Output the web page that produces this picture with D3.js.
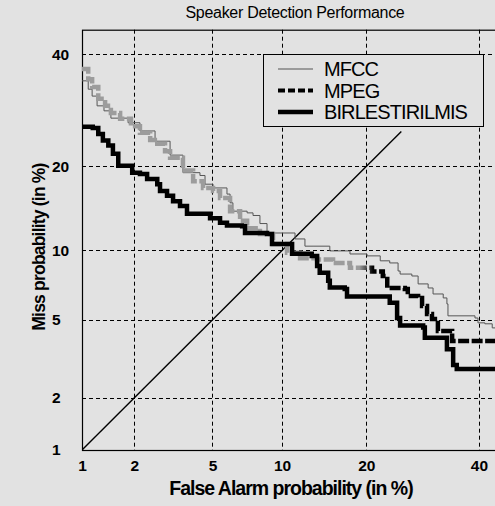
<!DOCTYPE html>
<html>
<head>
<meta charset="utf-8">
<script src="https://cdn.jsdelivr.net/npm/d3@7"></script>
<style>
  html, body { margin: 0; padding: 0; background: #e2e2e2; }
  svg { display: block; font-family: "Liberation Sans", Arial, sans-serif; }
</style>
</head>
<body>
<svg id="chart" width="495" height="506"></svg>
<script>
// Labels and ticks
const title = "Speaker Detection Performance";
const xLabel = "False Alarm probability (in %)";
const yLabel = "Miss probability (in %)";
const tickValues = [1, 2, 5, 10, 20, 40];
const gridValues = [2, 5, 10, 20, 40];
const axisLimits = [1, 45];
const seriesNames = ["MFCC", "MPEG", "BIRLESTIRILMIS"];

// DET curves: [false alarm %, miss %]
const mfcc = [
  [1.0, 34.7], [1.09, 33.1], [1.15, 31.8], [1.23, 30.0], [1.35, 29.1], [1.48, 27.8],
  [1.85, 27.0], [2.15, 25.6], [2.59, 23.9], [3.10, 21.7], [3.60, 19.1], [4.36, 18.7],
  [4.61, 17.5], [5.03, 17.0], [5.83, 16.2], [6.02, 15.1], [6.20, 14.1], [7.16, 13.9],
  [7.59, 13.6], [8.12, 12.7], [8.69, 11.7], [11.05, 11.7], [11.24, 11.1], [12.06, 11.1],
  [12.26, 10.4], [13.14, 10.4], [15.1, 9.96], [17.7, 9.68], [20.1, 9.51], [21.6, 9.51],
  [22.1, 9.08], [23.6, 8.9], [24.96, 8.24], [25.3, 8.0], [27.3, 7.85], [28.4, 7.26],
  [30.2, 6.97], [31.1, 6.56], [33.0, 6.3], [33.7, 5.92], [33.9, 5.22], [39.2, 5.1],
  [39.8, 4.84], [41.2, 4.79], [42.7, 4.58], [45, 4.53]
];
const mpeg = [
  [1.0, 37.0], [1.09, 35.0], [1.15, 33.5], [1.25, 31.3], [1.37, 30.0], [1.48, 28.7],
  [1.67, 27.7], [1.92, 26.4], [2.15, 25.3], [2.44, 24.1], [2.66, 23.5], [2.92, 22.3],
  [3.10, 21.3], [3.60, 19.4], [4.04, 17.9], [4.51, 17.0], [5.03, 16.6], [5.42, 15.7],
  [6.02, 14.1], [6.67, 13.0], [7.16, 12.2], [8.12, 11.6], [9.20, 10.6], [10.46, 9.8],
  [11.75, 9.3], [13.6, 9.2], [15.5, 8.9], [17.7, 8.5], [20.85, 8.2], [22.5, 7.85],
  [23.2, 6.97], [26.1, 6.9], [26.6, 6.43], [28.4, 6.3], [29.1, 5.8], [30.0, 5.33],
  [30.9, 5.05], [32.0, 4.43], [34.7, 3.96], [45, 3.96]
];
const birlestirilmis = [
  [1.0, 26.3], [1.16, 26.1], [1.25, 25.1], [1.33, 24.0], [1.43, 23.2], [1.52, 21.9],
  [1.63, 20.1], [1.85, 20.1], [1.95, 19.1], [2.15, 18.9], [2.35, 18.2], [2.66, 17.5],
  [2.75, 16.6], [2.99, 16.0], [3.21, 15.3], [3.48, 14.7], [3.77, 13.8], [4.87, 13.3],
  [5.42, 12.8], [5.83, 12.5], [6.81, 12.4], [7.01, 11.7], [8.69, 11.6], [9.11, 10.6],
  [10.75, 10.6], [10.95, 9.7], [13.0, 9.5], [13.6, 8.65], [13.9, 8.1], [14.9, 7.5],
  [15.1, 7.0], [17.0, 6.9], [17.3, 6.4], [23.2, 6.4], [23.6, 6.0], [24.8, 5.1],
  [25.3, 4.7], [29.3, 4.6], [29.6, 4.1], [33.4, 4.1], [33.7, 3.6], [34.9, 3.0],
  [35.6, 2.86], [45, 2.86]
];
// Equal error reference line
const chanceLine = [[1, 1], [25.5, 25.5]];

// Inverse standard normal CDF (Acklam's rational approximation)
function probit(p) {
  const a = [-3.969683028665376e+01, 2.209460984245205e+02, -2.759285104469687e+02,
             1.383577518672690e+02, -3.066479806614716e+01, 2.506628277459239e+00];
  const b = [-5.447609879822406e+01, 1.615858368580409e+02, -1.556989798598866e+02,
             6.680131188771972e+01, -1.328068155288572e+01];
  const c = [-7.784894002430293e-03, -3.223964580411365e-01, -2.400758277161838e+00,
             -2.549732539343734e+00, 4.374664141464968e+00, 2.938163982698783e+00];
  const d = [7.784695709041462e-03, 3.224671290700398e-01, 2.445134137142996e+00,
             3.754408661907416e+00];
  const plow = 0.02425, phigh = 1 - plow;
  let q, r;
  if (p < plow) {
    q = Math.sqrt(-2 * Math.log(p));
    return (((((c[0]*q+c[1])*q+c[2])*q+c[3])*q+c[4])*q+c[5]) /
           ((((d[0]*q+d[1])*q+d[2])*q+d[3])*q+1);
  } else if (p <= phigh) {
    q = p - 0.5; r = q * q;
    return (((((a[0]*r+a[1])*r+a[2])*r+a[3])*r+a[4])*r+a[5])*q /
           (((((b[0]*r+b[1])*r+b[2])*r+b[3])*r+b[4])*r+1);
  } else {
    q = Math.sqrt(-2 * Math.log(1 - p));
    return -(((((c[0]*q+c[1])*q+c[2])*q+c[3])*q+c[4])*q+c[5]) /
            ((((d[0]*q+d[1])*q+d[2])*q+d[3])*q+1);
  }
}
const dev = v => probit(v / 100);

const plot = { left: 82, right: 503.4, top: 29.7, bottom: 450 };
const x = d3.scaleLinear().domain(axisLimits.map(dev)).range([plot.left, plot.right]);
const y = d3.scaleLinear().domain(axisLimits.map(dev)).range([plot.bottom, plot.top]);
const px = v => x(dev(v));
const py = v => y(dev(v));

const svg = d3.select("#chart");

// Gradient for the MPEG curve (grey upper run, black lower run)
const defs = svg.append("defs");
const grad = defs.append("linearGradient")
  .attr("id", "mpegTone").attr("gradientUnits", "userSpaceOnUse")
  .attr("x1", px(19)).attr("x2", px(21)).attr("y1", 0).attr("y2", 0);
grad.append("stop").attr("offset", 0).attr("stop-color", "#9c9c9c");
grad.append("stop").attr("offset", 1).attr("stop-color", "#000");
defs.append("clipPath").attr("id", "plotClip").append("rect")
  .attr("x", plot.left).attr("y", plot.top)
  .attr("width", plot.right - plot.left).attr("height", plot.bottom - plot.top);

// Grid
const grid = svg.append("g").attr("stroke", "#000").attr("stroke-width", 1)
  .attr("stroke-dasharray", "4,3").attr("fill", "none");
grid.selectAll(".gx").data(gridValues).join("line")
  .attr("x1", d => Math.round(px(d)) + 0.5).attr("x2", d => Math.round(px(d)) + 0.5)
  .attr("y1", plot.top).attr("y2", plot.bottom);
grid.selectAll(".gy").data(gridValues).join("line")
  .attr("y1", d => Math.round(py(d)) + 0.5).attr("y2", d => Math.round(py(d)) + 0.5)
  .attr("x1", plot.left).attr("x2", plot.right);

// Frame
svg.append("rect")
  .attr("x", plot.left + 0.5).attr("y", plot.top + 0.5)
  .attr("width", plot.right - plot.left).attr("height", plot.bottom - plot.top)
  .attr("fill", "none").attr("stroke", "#000").attr("stroke-width", 1.2);

// Axes (labels only)
const xAxis = d3.axisBottom(x)
  .tickValues(tickValues.map(dev))
  .tickFormat((d, i) => tickValues[i])
  .tickSize(0).tickPadding(10);
const gx = svg.append("g").attr("transform", `translate(0,${plot.bottom})`).call(xAxis);
gx.select(".domain").remove();
gx.selectAll("text").attr("font-size", 15.5).attr("font-weight", "bold")
  .attr("fill", "#000").attr("font-family", "Liberation Sans, Arial, sans-serif");

const yAxis = d3.axisLeft(y)
  .tickValues(tickValues.map(dev))
  .tickFormat((d, i) => tickValues[i])
  .tickSize(0);
const gy = svg.append("g").attr("transform", `translate(${plot.left},0)`).call(yAxis);
gy.select(".domain").remove();
gy.selectAll("text").attr("font-size", 15.5).attr("font-weight", "bold")
  .attr("fill", "#000").attr("text-anchor", "start").attr("x", -30)
  .attr("font-family", "Liberation Sans, Arial, sans-serif");

// Curves
const line = d3.line().x(d => px(d[0])).y(d => py(d[1])).curve(d3.curveStepAfter);
const curves = svg.append("g").attr("clip-path", "url(#plotClip)").attr("fill", "none");
curves.append("path").datum(chanceLine)
  .attr("d", d3.line().x(d => px(d[0])).y(d => py(d[1])))
  .attr("stroke", "#000").attr("stroke-width", 1.4);
curves.append("path").datum(mfcc).attr("d", line)
  .attr("stroke", "#555").attr("stroke-width", 1);
curves.append("path").datum(mpeg).attr("d", line)
  .attr("stroke", "url(#mpegTone)").attr("stroke-width", 4.5)
  .attr("stroke-dasharray", "11,2.5");
curves.append("path").datum(birlestirilmis).attr("d", line)
  .attr("stroke", "#000").attr("stroke-width", 4.5);

// Title and axis labels
svg.append("text").attr("x", 295).attr("y", 18).attr("text-anchor", "middle")
  .attr("font-size", 16).attr("letter-spacing", -0.3).text(title);
svg.append("text").attr("x", 291).attr("y", 495).attr("text-anchor", "middle")
  .attr("font-size", 19.5).attr("font-weight", "bold").attr("letter-spacing", -1)
  .text(xLabel);
svg.append("text").attr("transform", "translate(45,247) rotate(-90)")
  .attr("text-anchor", "middle")
  .attr("font-size", 17.5).attr("font-weight", "bold").attr("letter-spacing", -0.8)
  .text(yLabel);

// Legend
const legend = svg.append("g");
legend.append("rect").attr("x", 263.5).attr("y", 54.5).attr("width", 220).attr("height", 72)
  .attr("fill", "#e2e2e2").attr("stroke", "#000").attr("stroke-width", 1);
const legendStyles = [
  { stroke: "#555", width: 1, dash: null },
  { stroke: "#000", width: 4, dash: "7,3" },
  { stroke: "#000", width: 4.5, dash: null }
];
seriesNames.forEach((name, i) => {
  const cy = 69 + i * 21.5;
  legend.append("line").attr("x1", 278).attr("x2", 313).attr("y1", cy).attr("y2", cy)
    .attr("stroke", legendStyles[i].stroke).attr("stroke-width", legendStyles[i].width)
    .attr("stroke-dasharray", legendStyles[i].dash);
  legend.append("text").attr("x", 324).attr("y", cy + 7)
    .attr("font-size", 20).attr("letter-spacing", -0.9).text(name);
});
</script>
</body>
</html>
